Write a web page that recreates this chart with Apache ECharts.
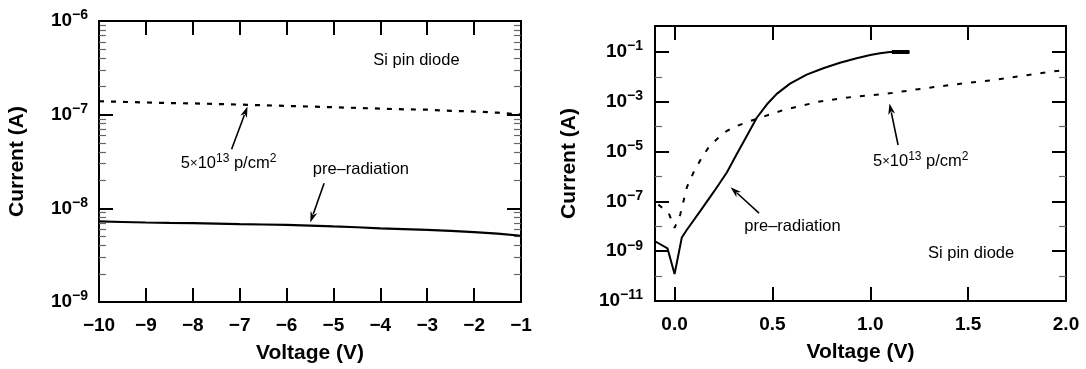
<!DOCTYPE html>
<html><head><meta charset="utf-8">
<script src="https://cdn.jsdelivr.net/npm/echarts@6/dist/echarts.min.js"></script>
<style>html,body{margin:0;padding:0;background:#fff}#c{width:1086px;height:369px}</style>
</head><body><div id="c"></div>
<script>
// ---------- Left panel: reverse bias ----------
const leftVoltage = [-10,-9.5,-9,-8.5,-8,-7.5,-7,-6.5,-6,-5.5,-5,-4.5,-4,-3.5,-3,-2.5,-2,-1.5,-1];
const leftPreRadiation = [7.24e-9,7.15e-9,7.06e-9,7.0e-9,6.95e-9,6.88e-9,6.78e-9,6.72e-9,6.67e-9,6.55e-9,6.41e-9,6.28e-9,6.10e-9,6.0e-9,5.90e-9,5.75e-9,5.58e-9,5.38e-9,5.10e-9];
const leftIrradiated = [1.39e-7,1.37e-7,1.35e-7,1.33e-7,1.32e-7,1.30e-7,1.28e-7,1.26e-7,1.24e-7,1.22e-7,1.20e-7,1.18e-7,1.16e-7,1.14e-7,1.13e-7,1.10e-7,1.08e-7,1.05e-7,1.005e-7];
const leftXTicks = [-10,-9,-8,-7,-6,-5,-4,-3,-2,-1];
const leftYTicks = [1e-9,1e-8,1e-7,1e-6];
const leftYMinorTicks = [];
[-9,-8,-7].forEach(d => { for (let m = 2; m <= 9; m++) leftYMinorTicks.push(m * Math.pow(10, d)); });

// ---------- Right panel: forward bias ----------
const rightPreVoltage = [-0.1,-0.036,0.0,0.037,0.063,0.131,0.199,0.267,0.318,0.369,0.420,0.471,0.522,0.590,0.675,0.760,0.845,0.930,1.0,1.05,1.1,1.2];
const rightPreLog = [-8.60,-8.89,-9.92,-8.45,-8.14,-7.39,-6.63,-5.84,-5.10,-4.37,-3.64,-3.11,-2.68,-2.27,-1.91,-1.65,-1.43,-1.25,-1.12,-1.05,-1.0,-1.0];
const rightComplianceVoltage = [1.11,1.2];
const rightComplianceCurrent = [0.1,0.1];
const rightIrrVoltage = [-0.083,-0.03,0.0,0.009,0.029,0.063,0.097,0.139,0.173,0.216,0.267,0.318,0.386,0.437,0.556,0.734,0.911,1.089,1.266,1.444,1.622,1.799,2.0];
const rightIrrLog = [-7.13,-7.47,-8.06,-8.0,-7.53,-6.43,-5.83,-5.24,-4.84,-4.50,-4.17,-3.97,-3.77,-3.64,-3.33,-3.0,-2.8,-2.67,-2.47,-2.29,-2.13,-1.93,-1.71];
const rightXTicks = [0,0.5,1,1.5,2];
const rightYTicks = [1e-11,1e-9,1e-7,1e-5,1e-3,1e-1];
const rightYMinorTicks = [1e-10,1e-8,1e-6,1e-4,1e-2];

// annotation anchors (data coordinates; current as log10)
const leftTexts = [
  {v:-3.23, lg:-6.425, t:'Si pin diode'},
  {v:-7.236, lg:-7.521, t:'5{x|×}10{s|13} p/cm{s|2}'},
  {v:-4.415, lg:-7.584, t:'pre–radiation'}
];
const leftArrows = [
  {from:[-7.172,-7.370], to:[-6.833,-6.913]},
  {from:[-5.199,-7.733], to:[-5.494,-8.151]}
];
const rightTexts = [
  {v:1.258, lg:-5.40, t:'5{x|×}10{s|13} p/cm{s|2}'},
  {v:0.6026, lg:-8.004, t:'pre–radiation'},
  {v:1.515, lg:-9.10, t:'Si pin diode'}
];
const rightArrows = [
  {from:[1.142,-4.735], to:[1.098,-3.068]},
  {from:[0.4316,-7.47], to:[0.2862,-6.43]}
];

const FONT = "'Liberation Sans', Arial, Helvetica, sans-serif";
const pow10 = x => Math.pow(10, x);
const zip = (a, b) => a.map((v, i) => [v, b[i]]);

function powLabel(v) {
  const e = Math.round(Math.log10(v));
  return '{b|10}{s|' + (e < 0 ? '−' : '') + Math.abs(e) + '}';
}
const yRich = {
  b: {fontSize: 19, fontWeight: 'bold', fontFamily: FONT, color: '#000'},
  s: {fontSize: 14, fontWeight: 'bold', fontFamily: FONT, color: '#000', padding: [0, 0, 11, 0]}
};
const nameStyle = {fontSize: 21, fontWeight: 'bold', fontFamily: FONT, color: '#000'};

function xAxes(gridIndex, min, max, ticks, fmt) {
  const tick = {show: true, inside: true, length: 14, lineStyle: {width: 2, color: '#000'}, customValues: ticks};
  return [
    {type: 'value', gridIndex, position: 'bottom', min, max,
     name: 'Voltage (V)', nameLocation: 'middle', nameGap: 41, nameTextStyle: nameStyle,
     axisLine: {show: false, onZero: false}, splitLine: {show: false}, axisTick: tick,
     axisLabel: {show: true, customValues: ticks, formatter: fmt, margin: 14, fontSize: 19, fontWeight: 'bold', color: '#000', fontFamily: FONT}},
    {type: 'value', gridIndex, position: 'top', min, max,
     axisLine: {show: false, onZero: false}, splitLine: {show: false}, axisTick: tick, axisLabel: {show: false}}
  ];
}
function yAxes(gridIndex, min, max, major, minor, nameGap, labelMargin) {
  const majorTick = {show: true, inside: true, length: 14, lineStyle: {width: 2, color: '#000'}, customValues: major};
  const minorTick = {show: true, inside: true, length: 7, lineStyle: {width: 1.2, color: '#666'}, customValues: minor};
  const base = {type: 'log', logBase: 10, gridIndex, min, max, axisLine: {show: false, onZero: false}, splitLine: {show: false}};
  return [
    Object.assign({}, base, {position: 'left', name: 'Current (A)', nameLocation: 'middle', nameGap, nameTextStyle: nameStyle,
      axisTick: majorTick, axisLabel: {show: true, customValues: major, formatter: powLabel, rich: yRich, margin: labelMargin}}),
    Object.assign({}, base, {position: 'left', axisTick: minorTick, axisLabel: {show: false}}),
    Object.assign({}, base, {position: 'right', axisTick: majorTick, axisLabel: {show: false}}),
    Object.assign({}, base, {position: 'right', axisTick: minorTick, axisLabel: {show: false}})
  ];
}
const minusFmt = v => (v < 0 ? '−' + Math.abs(v) : String(v));

const option = {
  animation: false,
  backgroundColor: '#fff',
  grid: [
    {left: 99, top: 21, width: 422, height: 281, show: true, borderColor: '#000', borderWidth: 2, backgroundColor: 'transparent'},
    {left: 655, top: 26, width: 411, height: 275, show: true, borderColor: '#000', borderWidth: 2, backgroundColor: 'transparent'}
  ],
  xAxis: [].concat(
    xAxes(0, -10, -1, leftXTicks, minusFmt),
    xAxes(1, -0.1, 2.0, rightXTicks, v => v.toFixed(1))
  ),
  yAxis: [].concat(
    yAxes(0, 1e-9, 1e-6, leftYTicks, leftYMinorTicks, 71, 11),
    yAxes(1, 1e-11, pow10(0.045), rightYTicks, rightYMinorTicks, 75, 12)
  ),
  series: [
    {type: 'line', xAxisIndex: 0, yAxisIndex: 0, data: zip(leftVoltage, leftPreRadiation), showSymbol: false,
     lineStyle: {color: '#000', width: 2.2}},
    {type: 'line', xAxisIndex: 0, yAxisIndex: 0, data: zip(leftVoltage, leftIrradiated), showSymbol: false,
     lineStyle: {color: '#000', width: 2.2, type: [5, 7]}},
    {type: 'line', xAxisIndex: 2, yAxisIndex: 4, data: zip(rightPreVoltage, rightPreLog.map(pow10)), showSymbol: false,
     lineStyle: {color: '#000', width: 2}},
    {type: 'line', xAxisIndex: 2, yAxisIndex: 4, data: zip(rightComplianceVoltage, rightComplianceCurrent), showSymbol: false,
     lineStyle: {color: '#000', width: 4}},
    {type: 'line', xAxisIndex: 2, yAxisIndex: 4, data: zip(rightIrrVoltage, rightIrrLog.map(pow10)), showSymbol: false,
     lineStyle: {color: '#000', width: 2, type: [5, 9]}}
  ]
};

const chart = echarts.init(document.getElementById('c'), null, {renderer: 'canvas'});
chart.setOption(option);

const annRich = {
  s: {fontSize: 12, fontFamily: FONT, color: '#000', padding: [0, 0, 9, 0]},
  x: {fontSize: 13, fontFamily: FONT, color: '#000'}
};
function textEl(seriesIndex, a) {
  const p = chart.convertToPixel({seriesIndex}, [a.v, pow10(a.lg)]);
  return {type: 'text', x: p[0], y: p[1], silent: true, z: 100,
    style: {text: a.t, fontSize: 16.5, fontFamily: FONT, fill: '#000', align: 'center', verticalAlign: 'middle', rich: annRich}};
}
function arrowEls(seriesIndex, a) {
  const p1 = chart.convertToPixel({seriesIndex}, [a.from[0], pow10(a.from[1])]);
  const p2 = chart.convertToPixel({seriesIndex}, [a.to[0], pow10(a.to[1])]);
  const dx = p2[0] - p1[0], dy = p2[1] - p1[1], L = Math.hypot(dx, dy);
  const ux = dx / L, uy = dy / L, hl = 11, hw = 3.5;
  const bx = p2[0] - ux * hl, by = p2[1] - uy * hl;
  return [
    {type: 'line', silent: true, z: 100, shape: {x1: p1[0], y1: p1[1], x2: bx + ux * 2, y2: by + uy * 2}, style: {stroke: '#000', lineWidth: 1.6}},
    {type: 'polygon', silent: true, z: 100, shape: {points: [[p2[0], p2[1]], [bx - uy * hw, by + ux * hw], [bx + ux * 3, by + uy * 3], [bx + uy * hw, by - ux * hw]]}, style: {fill: '#000'}}
  ];
}
let g = [];
leftTexts.forEach(a => g.push(textEl(0, a)));
leftArrows.forEach(a => g = g.concat(arrowEls(0, a)));
rightTexts.forEach(a => g.push(textEl(2, a)));
rightArrows.forEach(a => g = g.concat(arrowEls(2, a)));
chart.setOption({graphic: g});
</script>
</body></html>
